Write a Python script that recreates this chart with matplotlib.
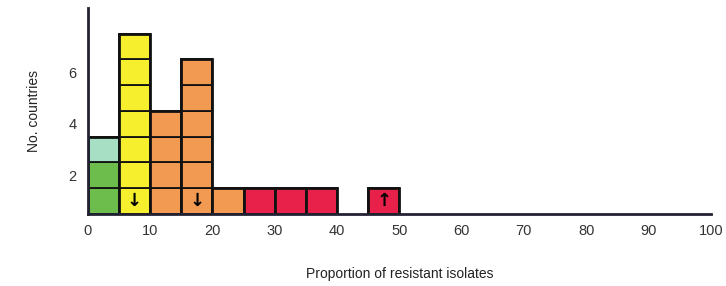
import matplotlib.pyplot as plt
from matplotlib.patches import Rectangle

plt.rcParams['font.family'] = ['Liberation Sans', 'DejaVu Sans']

# histogram bins (width 5) and the number of countries in each
bin_left = [0, 5, 10, 15, 20, 25, 30, 35, 45]
counts = [3, 7, 4, 6, 1, 1, 1, 1, 1]
# colour of each stacked square, from the bottom up
cell_colors = [
    ['#6cbd4c', '#6cbd4c', '#a6dfc3'],
    ['#f6ef2e'] * 7,
    ['#f39a52'] * 4,
    ['#f39a52'] * 6,
    ['#f39a52'],
    ['#e8214b'],
    ['#e8214b'],
    ['#e8214b'],
    ['#e8214b'],
]
# trend arrows drawn in the bottom square
arrows = {5: '↓', 15: '↓', 45: '↑'}
bin_width = 5

xticks = list(range(0, 101, 10))
yticks = [2, 4, 6]

fig = plt.figure(figsize=(7.26, 2.86), dpi=100)
ax = fig.add_axes([0.121, 0.252, 0.858, 0.72])

for x0, n, cols in zip(bin_left, counts, cell_colors):
    for i in range(n):
        ax.add_patch(Rectangle((x0, i + 0.5), bin_width, 1, facecolor=cols[i],
                               edgecolor='#111111', lw=1.3))
    # thicker outline round the whole column
    ax.add_patch(Rectangle((x0, 0.5), bin_width, n, fill=False,
                           edgecolor='#111111', lw=2.0))
    if x0 in arrows:
        ax.text(x0 + bin_width / 2, 1.0, arrows[x0], ha='center', va='center',
                fontsize=13, fontweight='bold', family='DejaVu Sans')

ax.set_xlim(0, 100)
ax.set_ylim(0.5, 8.5)
ax.set_xticks(xticks)
ax.set_yticks(yticks)
ax.tick_params(length=0, labelsize=10.5, colors='#333333')
ax.tick_params(axis='x', pad=7)
ax.tick_params(axis='y', pad=8)
for s in ['top', 'right']:
    ax.spines[s].set_visible(False)
for s in ['left', 'bottom']:
    ax.spines[s].set_linewidth(2)
    ax.spines[s].set_color('#222233')
    ax.spines[s].set_zorder(5)

ax.set_xlabel('Proportion of resistant isolates', fontsize=10, labelpad=21,
              color='#222222')
ax.set_ylabel('No. countries', fontsize=10, labelpad=20, color='#222222')

fig.savefig('out.png', dpi=100)
